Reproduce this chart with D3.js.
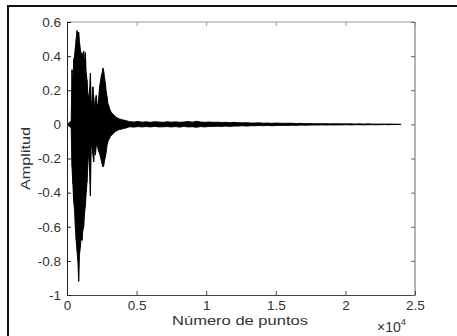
<!DOCTYPE html>
<html>
<head>
<meta charset="utf-8">
<script src="https://cdn.jsdelivr.net/npm/d3@7"></script>
<style>
  html, body { margin: 0; padding: 0; background: #fff; }
  svg { display: block; }
  text { font-family: "Liberation Sans", Arial, Helvetica, sans-serif; fill: #333; }
</style>
</head>
<body>
<svg id="chart" width="457" height="336"></svg>
<script>
// Waveform envelope, impact burst: samples every 60 points starting at point 300
const burstStart = 300;
const burstStep = 60;
const burstMax = [
  0.02, 0.32, 0.22, 0.38, 0.40, 0.45, 0.50, 0.55, 0.53, 0.54,
  0.48, 0.44, 0.40, 0.42, 0.38, 0.43, 0.36, 0.42, 0.30, 0.26,
  0.18, 0.15, 0.20, 0.30, 0.14, 0.10, 0.22, 0.16, 0.09, 0.14,
  0.17, 0.10, 0.12, 0.16, 0.22, 0.25, 0.28, 0.30, 0.33, 0.31,
  0.27, 0.24, 0.19, 0.16, 0.12, 0.11, 0.09, 0.08, 0.07, 0.065,
  0.06, 0.055, 0.05, 0.045, 0.04, 0.04, 0.035, 0.035, 0.03, 0.03,
  0.028, 0.027, 0.025, 0.025, 0.024, 0.023
];
const burstMin = [
  -0.02, -0.25, -0.35, -0.45, -0.50, -0.60, -0.68, -0.74, -0.80, -0.92,
  -0.76, -0.72, -0.66, -0.68, -0.62, -0.60, -0.52, -0.48, -0.40, -0.34,
  -0.22, -0.16, -0.28, -0.42, -0.14, -0.12, -0.18, -0.22, -0.12, -0.18,
  -0.13, -0.10, -0.14, -0.16, -0.17, -0.19, -0.21, -0.23, -0.25, -0.24,
  -0.21, -0.19, -0.16, -0.12, -0.10, -0.09, -0.08, -0.07, -0.065, -0.06,
  -0.055, -0.05, -0.045, -0.04, -0.04, -0.035, -0.035, -0.03, -0.03, -0.03,
  -0.028, -0.026, -0.025, -0.024, -0.023, -0.022
];

// Residual noise after the burst: samples every 300 points starting at point 4500
const noiseStart = 4500;
const noiseStep = 300;
const noiseMax = [
  0.016, 0.014, 0.017, 0.013, 0.015, 0.012, 0.016, 0.014, 0.012, 0.015,
  0.013, 0.015, 0.012, 0.014, 0.017, 0.013, 0.018, 0.014, 0.012, 0.014,
  0.012, 0.013, 0.011, 0.012, 0.010, 0.012, 0.010, 0.009, 0.010, 0.008,
  0.008, 0.009, 0.007, 0.008, 0.006, 0.008, 0.007, 0.006, 0.007, 0.006,
  0.005, 0.006, 0.004, 0.005, 0.004, 0.004, 0.004, 0.004, 0.003, 0.004,
  0.003, 0.003, 0.003, 0.003, 0.002, 0.003, 0.002, 0.003, 0.002, 0.002,
  0.002, 0.002, 0.002, 0.002, 0.001, 0.0
];
const noiseMin = [
  -0.014, -0.016, -0.013, -0.015, -0.013, -0.015, -0.012, -0.015, -0.014, -0.013,
  -0.015, -0.013, -0.016, -0.012, -0.015, -0.014, -0.017, -0.013, -0.015, -0.012,
  -0.012, -0.011, -0.012, -0.010, -0.012, -0.010, -0.010, -0.008, -0.010, -0.008,
  -0.008, -0.007, -0.008, -0.006, -0.008, -0.007, -0.006, -0.006, -0.006, -0.005,
  -0.006, -0.004, -0.005, -0.004, -0.004, -0.004, -0.003, -0.004, -0.003, -0.004,
  -0.003, -0.003, -0.002, -0.003, -0.002, -0.002, -0.003, -0.002, -0.002, -0.002,
  -0.002, -0.001, -0.002, -0.001, -0.001, 0.0
];

const xTicks = [0, 5000, 10000, 15000, 20000, 25000];
const xTickLabels = ["0", "0.5", "1", "1.5", "2", "2.5"];
const yTicks = [-1, -0.8, -0.6, -0.4, -0.2, 0, 0.2, 0.4, 0.6];
const yTickLabels = ["-1", "-0.8", "-0.6", "-0.4", "-0.2", "0", "0.2", "0.4", "0.6"];

const xTitle = "Número de puntos";
const yTitle = "Amplitud";

// ----- layout -----
const svg = d3.select("#chart");
const plot = { left: 67, top: 22, right: 415, bottom: 295 };

const x = d3.scaleLinear().domain([0, 25000]).range([plot.left, plot.right]);
const y = d3.scaleLinear().domain([-1, 0.6]).range([plot.bottom, plot.top]);

// outer frame
svg.append("rect")
  .attr("x", 8).attr("y", 6)
  .attr("width", 470).attr("height", 360)
  .attr("fill", "none").attr("stroke", "#111").attr("stroke-width", 2);

// envelope records
const env = [];
env.push({ p: 0, hi: 0, lo: 0 });
burstMax.forEach((v, i) => env.push({ p: burstStart + i * burstStep, hi: v, lo: burstMin[i] }));
noiseMax.forEach((v, i) => env.push({ p: noiseStart + i * noiseStep, hi: v, lo: noiseMin[i] }));

const area = d3.area()
  .x(d => x(d.p))
  .y0(d => y(d.lo))
  .y1(d => y(d.hi));

svg.append("path")
  .datum(env)
  .attr("d", area)
  .attr("fill", "#000")
  .attr("stroke", "#000")
  .attr("stroke-width", 0.9)
  .attr("stroke-linejoin", "miter");

// min/max streaks for each envelope sample
svg.append("g").selectAll("line")
  .data(env)
  .join("line")
  .attr("x1", d => x(d.p)).attr("x2", d => x(d.p))
  .attr("y1", d => y(d.lo)).attr("y2", d => y(d.hi))
  .attr("stroke", "#000").attr("stroke-width", 0.8);

// ----- axes box -----
const box = svg.append("g").attr("fill", "none");
box.append("line").attr("x1", plot.left).attr("x2", plot.right)
  .attr("y1", plot.top).attr("y2", plot.top).attr("stroke", "#999");
box.append("line").attr("x1", plot.right).attr("x2", plot.right)
  .attr("y1", plot.top).attr("y2", plot.bottom).attr("stroke", "#666");

const tickLen = 4;
const fontSize = 13.5;

// bottom axis
const xAxis = d3.axisBottom(x)
  .tickValues(xTicks)
  .tickSizeInner(-tickLen)
  .tickSizeOuter(0)
  .tickPadding(5.4)
  .tickFormat((d, i) => xTickLabels[i]);
const gx = svg.append("g").attr("transform", `translate(0,${plot.bottom})`).call(xAxis);
gx.select(".domain").attr("stroke", "#444");
gx.selectAll(".tick line").attr("stroke", "#444");
gx.selectAll("text").attr("font-size", fontSize).attr("fill", "#333")
  .attr("font-family", "Liberation Sans, Arial, sans-serif");

// top mirror ticks
const xTop = d3.axisTop(x).tickValues(xTicks).tickSizeInner(-tickLen).tickSizeOuter(0).tickFormat("");
const gxt = svg.append("g").attr("transform", `translate(0,${plot.top})`).call(xTop);
gxt.select(".domain").remove();
gxt.selectAll(".tick line").attr("stroke", "#999");

// left axis
const yAxis = d3.axisLeft(y)
  .tickValues(yTicks)
  .tickSizeInner(-tickLen)
  .tickSizeOuter(0)
  .tickPadding(6)
  .tickFormat((d, i) => yTickLabels[i]);
const gy = svg.append("g").attr("transform", `translate(${plot.left},0)`).call(yAxis);
gy.select(".domain").attr("stroke", "#222");
gy.selectAll(".tick line").attr("stroke", "#222");
gy.selectAll("text").attr("font-size", fontSize).attr("fill", "#333")
  .attr("font-family", "Liberation Sans, Arial, sans-serif");

// right mirror ticks
const yRight = d3.axisRight(y).tickValues(yTicks).tickSizeInner(-tickLen).tickSizeOuter(0).tickFormat("");
const gyr = svg.append("g").attr("transform", `translate(${plot.right},0)`).call(yRight);
gyr.select(".domain").remove();
gyr.selectAll(".tick line").attr("stroke", "#666");

// ----- titles -----
svg.append("text")
  .attr("x", 240).attr("y", 324.5)
  .attr("text-anchor", "middle")
  .attr("font-size", 12.5)
  .attr("textLength", 136).attr("lengthAdjust", "spacingAndGlyphs")
  .text(xTitle);

svg.append("text")
  .attr("transform", `translate(30,${(plot.top + plot.bottom) / 2}) rotate(-90)`)
  .attr("text-anchor", "middle")
  .attr("font-size", 13.5)
  .attr("textLength", 63).attr("lengthAdjust", "spacingAndGlyphs")
  .text(yTitle);

// exponent note for the x axis
const expo = svg.append("text").attr("x", 377).attr("y", 332).attr("font-size", 14);
expo.append("tspan").text("×10");
expo.append("tspan").attr("font-size", 9.5).attr("dy", -7).text("4");
</script>
</body>
</html>
